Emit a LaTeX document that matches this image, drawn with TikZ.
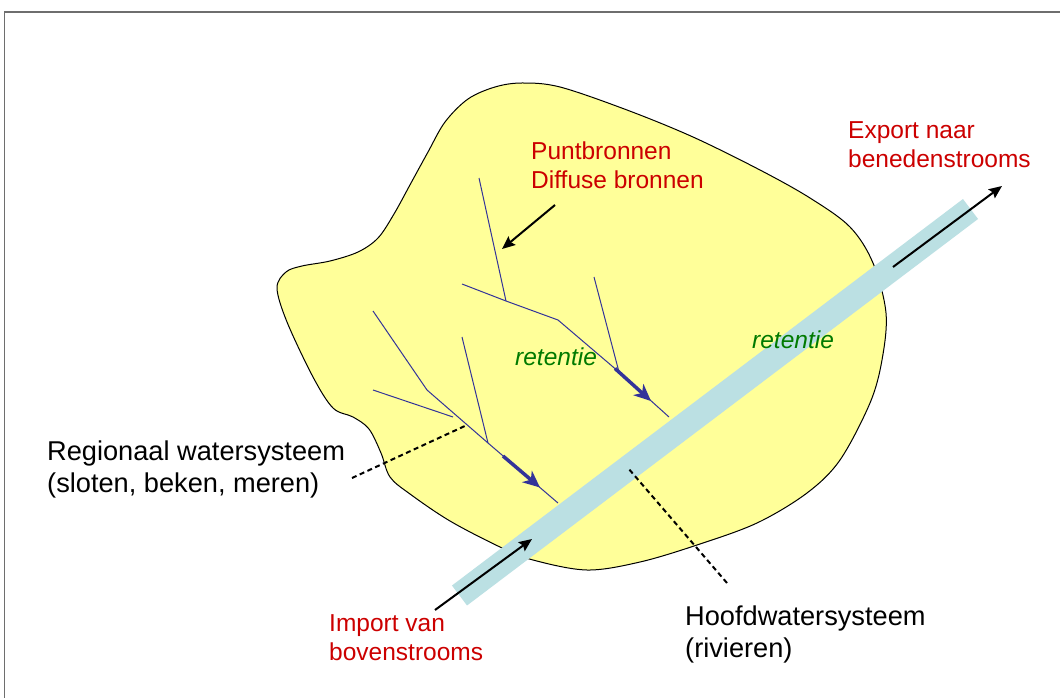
\documentclass[tikz,border=0pt]{standalone}
\usepackage{fontspec}
\setmainfont{Liberation Sans}
\usetikzlibrary{arrows.meta}
\definecolor{blobfill}{RGB}{255,255,153}
\definecolor{pipecol}{RGB}{187,224,227}
\definecolor{streamcol}{RGB}{51,51,153}
\definecolor{redtxt}{RGB}{204,0,0}
\definecolor{greentxt}{RGB}{0,122,0}
\definecolor{framecol}{RGB}{110,110,110}
\begin{document}
\begin{tikzpicture}[x=1pt,y=-1pt,
  redlabel/.style={text=redtxt,font=\fontsize{24.5}{29.4}\selectfont,anchor=base west,inner sep=0pt},
  blacklabel/.style={text=black,font=\fontsize{27.2}{32.6}\selectfont,anchor=base west,inner sep=0pt},
  retlabel/.style={text=greentxt,font=\fontsize{24.5}{29.4}\selectfont\itshape,anchor=base west,inner sep=0pt},
  stream/.style={draw=streamcol,line width=1pt},
  streamarrow/.style={draw=streamcol,line width=3.5pt,-{Stealth[length=17pt,width=15pt,inset=5pt]}},
  blackarrow/.style={draw=black,line width=2pt,-{Stealth[length=13pt,width=11pt,inset=2pt]}},
  leader/.style={draw=black,line width=2pt,dash pattern=on 5pt off 3.5pt},
]
\useasboundingbox (0,0) rectangle (1060,698);
\fill[white] (0,0) rectangle (1060,698);
\draw[framecol,line width=1.5pt] (4.5,698) -- (4.5,12) -- (1060,12);

% catchment area
\draw[fill=blobfill,line width=1pt] plot[smooth cycle,tension=0.55] coordinates {
(277,288) (286,272) (302,266) (330,261) (358,252) (378,238) (394,214)
(411,183) (428,152) (445,122) (468,99) (495,87) (522,83) (560,87)
(627,110) (693,137) (760,170) (810,198) (850,227) (873,263) (886,313)
(882,360) (870,403) (840,460) (807,493) (757,523) (697,545) (640,562)
(587,570) (533,560) (500,547) (450,521) (410,494) (390,477) (381,453)
(369,429) (353,417) (333,408) (313,377) (287,322)};

% main river
\coordinate (pipeA) at (459.5,595.5);
\coordinate (pipeB) at (970.5,209);
\draw[pipecol,line width=25pt] (pipeA) -- (pipeB);

% upper stream tree
\coordinate (a1) at (479,178);
\coordinate (a2) at (506,301);
\coordinate (a3) at (462,284);
\coordinate (a4) at (558,320);
\coordinate (a5) at (619,372);
\coordinate (a5s) at (615,368.5);
\coordinate (a6) at (651,401);
\coordinate (a7) at (669,417);
\coordinate (a8) at (594,277);
\draw[stream] (a1) -- (a2);
\draw[stream] (a3) -- (a2) -- (a4) -- (a5) -- (a7);
\draw[stream] (a8) -- (a5);
\draw[streamarrow] (a5s) -- (a6);

% lower stream tree
\coordinate (b1) at (373,311);
\coordinate (b2) at (427,390);
\coordinate (b3) at (488,443);
\coordinate (b4) at (558,503);
\coordinate (b5) at (373,390);
\coordinate (b6) at (453,417);
\coordinate (b7) at (462,337);
\coordinate (b8) at (503,456);
\coordinate (b9) at (540,487.5);
\draw[stream] (b1) -- (b2) -- (b3) -- (b4);
\draw[stream] (b5) -- (b6);
\draw[stream] (b7) -- (b3);
\draw[streamarrow] (b8) -- (b9);

% labels
\node[redlabel] (punt1) at (531,159) {Puntbronnen};
\node[redlabel] (punt2) at (531,188.4) {Diffuse bronnen};
\node[redlabel] (exp1) at (848,138.3) {Export naar};
\node[redlabel] (exp2) at (848,167.7) {benedenstrooms};
\node[redlabel] (imp1) at (329,631.5) {Import van};
\node[redlabel] (imp2) at (329,660.9) {bovenstrooms};
\node[blacklabel] (reg1) at (47,460) {Regionaal watersysteem};
\node[blacklabel] (reg2) at (47,492.6) {(sloten, beken, meren)};
\node[blacklabel] (hfd1) at (685,625) {Hoofdwatersysteem};
\node[blacklabel] (hfd2) at (685,657.6) {(rivieren)};
\node[retlabel] (ret1) at (515,365) {retentie};
\node[retlabel] (ret2) at (752,348) {retentie};

% black arrows
\coordinate (puntS) at (555,205);
\coordinate (puntT) at (502,249);
\draw[blackarrow] (puntS) -- (puntT);
\coordinate (expS) at (893,267);
\coordinate (expT) at (1002,186);
\draw[blackarrow] (expS) -- (expT);
\coordinate (impS) at (435,610);
\coordinate (impT) at (532,539);
\draw[blackarrow] (impS) -- (impT);

% dashed leaders
\coordinate (regS) at (352,478);
\coordinate (regT) at (467,425);
\draw[leader] (regS) -- (regT);
\coordinate (hfdS) at (727,583);
\coordinate (hfdT) at (628,468);
\draw[leader] (hfdS) -- (hfdT);
\end{tikzpicture}
\end{document}
